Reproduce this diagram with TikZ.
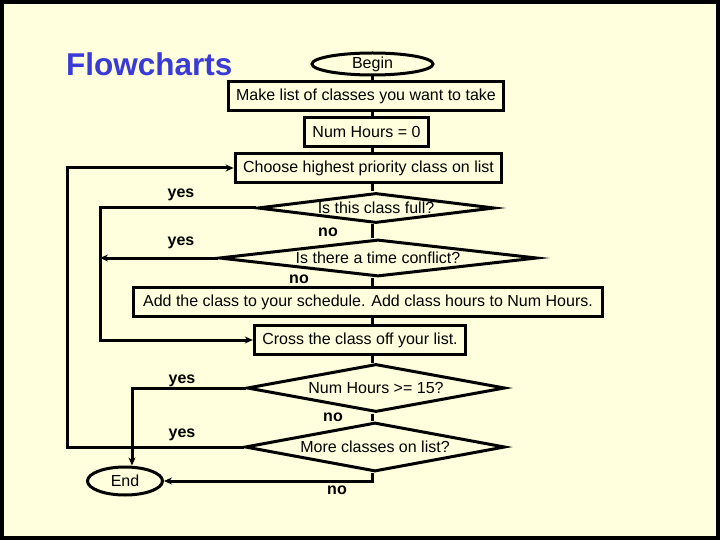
\documentclass[tikz,border=0pt]{standalone}
\usepackage{fontspec}
\setmainfont{Liberation Sans}
\usetikzlibrary{arrows.meta,shapes.geometric}
\definecolor{fcpaper}{HTML}{FFFFDD}
\definecolor{fcblue}{HTML}{3A3AD6}
\definecolor{fcink}{HTML}{000000}
\newcommand{\fsz}{\fontsize{16}{19}\selectfont}
\newcommand{\zw}[1]{\makebox[0pt]{#1}}
\tikzset{
  stepbox/.style={draw=fcink, line width=3pt, inner xsep=8pt, minimum height=29pt, font=\fsz},
  term/.style={ellipse, draw=fcink, line width=3pt, inner sep=0pt, font=\fsz},
  dec/.style={diamond, draw=fcink, line width=3pt, inner sep=0pt, font=\fsz},
  lbl/.style={font=\bfseries\fsz, inner sep=0pt},
  wire/.style={line width=3pt, color=fcink},
  arr/.style={-{Stealth[length=8pt,width=7pt]}, line width=3pt, color=fcink},
}

\begin{document}
\begin{tikzpicture}[x=1pt, y=-1pt]
  \useasboundingbox (0,0) rectangle (720,540);
  \fill[black] (0,0) rectangle (720,540);
  \fill[fcpaper] (4,4) rectangle (716,536);

  \node[font=\bfseries\fontsize{31.5}{36}\selectfont, text=fcblue, anchor=west, inner sep=0pt] (title) at (66,64) {Flowcharts};

  % main column
  \coordinate (sp) at (372,0);
  \coordinate (inl) at (100,0);
  \coordinate (outl) at (67,0);
  \node[term, minimum width=121pt, minimum height=22pt] (begin) at (372.5,64) {Begin};
  \node[stepbox] (make) at (366,96) {Make list of classes you want to take};
  \node[stepbox] (num) at (366.5,132) {Num Hours = 0};
  \node[stepbox] (choose) at (368.5,168) {Choose highest priority class on list};
  \node[dec, minimum width=237pt, minimum height=30pt] (d1) at (376,208) {\zw{Is this class full?}};
  \node[dec, minimum width=318pt, minimum height=37pt] (d2) at (378,258) {\zw{Is there a time conflict?}};
  \node[stepbox, inner xsep=10pt] (add) at (368,302) {Add the class to your schedule. Add class hours to Num Hours.};
  \node[stepbox] (cross) at (360,340) {Cross the class off your list.};
  \node[dec, minimum width=258pt, minimum height=48pt] (d3) at (376,388) {\zw{Num Hours >= 15?}};
  \node[dec, minimum width=260pt, minimum height=49pt] (d4) at (375,447) {\zw{More classes on list?}};
  \node[term, minimum width=75pt, minimum height=28pt] (stop) at (125,481) {End};

  % spine
  \draw[wire] (begin.south -| sp) -- (make.north -| sp);
  \draw[wire] (make.south -| sp) -- (num.north -| sp);
  \draw[wire] (num.south -| sp) -- (choose.north -| sp);
  \draw[wire] (choose.south -| sp) -- (d1.north -| sp);
  \draw[wire] (d1.south -| sp) -- (d2.north -| sp);
  \draw[wire] (d2.south -| sp) -- (add.north -| sp);
  \draw[wire] (add.south -| sp) -- (cross.north -| sp);
  \draw[wire] (cross.south -| sp) -- (d3.north -| sp);
  \draw[wire] (d3.south -| sp) -- (d4.north -| sp);

  % branches
  \draw[arr] (d1.west) -- (d1.west -| inl) |- (cross.west);
  \draw[arr] (d2.west) -- (d2.west -| inl);
  \draw[arr] (d4.west) -- (d4.west -| outl) |- (choose.west);
  \draw[arr] (d3.west) -| ([xshift=7pt]stop.north);
  \draw[arr] (d4.south -| sp) |- (stop.east);

  \foreach \n/\x/\y/\t in {y1/181/195/yes, y2/181/243/yes, y3/182/381/yes, y4/182/435/yes,
                           n1/328/232/no, n2/299/279/no, n3/333/417/no, n4/337/490/no}
    \node[lbl] (\n) at (\x,\y) {\t};
\end{tikzpicture}
\end{document}
